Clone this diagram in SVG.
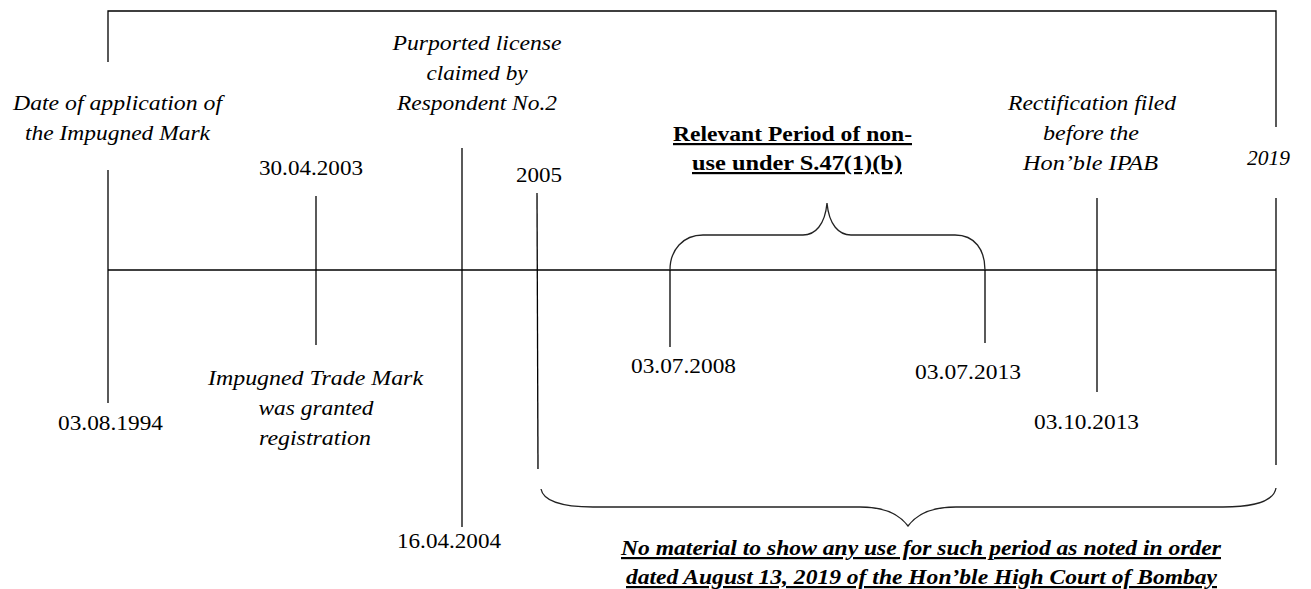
<svg xmlns="http://www.w3.org/2000/svg" width="1311" height="589" viewBox="0 0 1311 589">
<style>
text{font-family:"Liberation Serif","Times New Roman",serif;font-size:22px;fill:#000;text-anchor:middle}
.i{font-style:italic}
.b{font-weight:bold;text-decoration:underline}
.bi{font-weight:bold;font-style:italic;text-decoration:underline}
.ln{stroke:#000;stroke-width:1.3;fill:none}
.br{stroke:#222;stroke-width:1.3;fill:none}
</style>
<rect width="1311" height="589" fill="#fff"/>
<g id="connectors">
<polyline class="ln" points="108,62 108,11 1276,11 1276,127"/>
<line class="ln" x1="108" y1="270" x2="1276" y2="270"/>
<path class="br" d="M670,270 C670,250 683,235 703,235 L803,235 C815,235 825,225 827,203 C829,225 839,235 851,235 L955,235 C975,235 985,250 985,270"/>
<path class="br" d="M541,489 C543,500 560,507 593,507 L860,507 C885,507 900,515 908,526 C916,515 931,507 956,507 L1223,507 C1258,507 1274,500 1276,488"/>
</g>
<g id="n1994">
<line class="ln" x1="108" y1="170" x2="108" y2="403"/>
<text class="i" x="117.5" y="110" textLength="209" lengthAdjust="spacingAndGlyphs">Date of application of</text>
<text class="i" x="117.5" y="140" textLength="185" lengthAdjust="spacingAndGlyphs">the Impugned Mark</text>
<text x="110.5" y="430" textLength="105" lengthAdjust="spacingAndGlyphs">03.08.1994</text>
</g>
<g id="n2003">
<line class="ln" x1="316" y1="196" x2="316" y2="345"/>
<text x="311" y="175" textLength="104" lengthAdjust="spacingAndGlyphs">30.04.2003</text>
<text class="i" x="315.5" y="385" textLength="215" lengthAdjust="spacingAndGlyphs">Impugned Trade Mark</text>
<text class="i" x="316" y="415" textLength="115" lengthAdjust="spacingAndGlyphs">was granted</text>
<text class="i" x="315" y="445" textLength="112" lengthAdjust="spacingAndGlyphs">registration</text>
</g>
<g id="n2004">
<line class="ln" x1="462" y1="148" x2="462" y2="527"/>
<text class="i" x="477" y="50" textLength="169" lengthAdjust="spacingAndGlyphs">Purported license</text>
<text class="i" x="477" y="80" textLength="101" lengthAdjust="spacingAndGlyphs">claimed by</text>
<text class="i" x="477" y="110" textLength="160" lengthAdjust="spacingAndGlyphs">Respondent No.2</text>
<text x="449" y="548" textLength="104" lengthAdjust="spacingAndGlyphs">16.04.2004</text>
</g>
<g id="n2005">
<line class="ln" x1="537" y1="193" x2="538" y2="469"/>
<text x="539" y="182" textLength="46" lengthAdjust="spacingAndGlyphs">2005</text>
</g>
<g id="n2008">
<line class="ln" x1="670" y1="270" x2="670" y2="347"/>
<text x="683.5" y="373" textLength="105" lengthAdjust="spacingAndGlyphs">03.07.2008</text>
</g>
<g id="period">
<text class="b" x="792.5" y="141" textLength="239" lengthAdjust="spacingAndGlyphs">Relevant Period of non-</text>
<text class="b" x="797" y="170" textLength="210" lengthAdjust="spacingAndGlyphs">use under S.47(1)(b)</text>
</g>
<g id="n2013a">
<line class="ln" x1="985" y1="270" x2="985" y2="343"/>
<text x="968" y="379" textLength="106" lengthAdjust="spacingAndGlyphs">03.07.2013</text>
</g>
<g id="n2013b">
<line class="ln" x1="1097" y1="198" x2="1097" y2="392"/>
<text class="i" x="1092" y="110" textLength="168" lengthAdjust="spacingAndGlyphs">Rectification filed</text>
<text class="i" x="1091" y="140" textLength="96" lengthAdjust="spacingAndGlyphs">before the</text>
<text class="i" x="1090.5" y="170" textLength="135" lengthAdjust="spacingAndGlyphs">Hon’ble IPAB</text>
<text x="1086.5" y="429" textLength="105" lengthAdjust="spacingAndGlyphs">03.10.2013</text>
</g>
<g id="n2019">
<line class="ln" x1="1276" y1="198" x2="1276" y2="465"/>
<text class="i" x="1268.5" y="165" textLength="43" lengthAdjust="spacingAndGlyphs">2019</text>
</g>
<g id="nomaterial">
<text class="bi" x="921" y="555" textLength="600" lengthAdjust="spacingAndGlyphs">No material to show any use for such period as noted in order</text>
<text class="bi" x="921.5" y="584" textLength="591" lengthAdjust="spacingAndGlyphs">dated August 13, 2019 of the Hon’ble High Court of Bombay</text>
</g>
</svg>
